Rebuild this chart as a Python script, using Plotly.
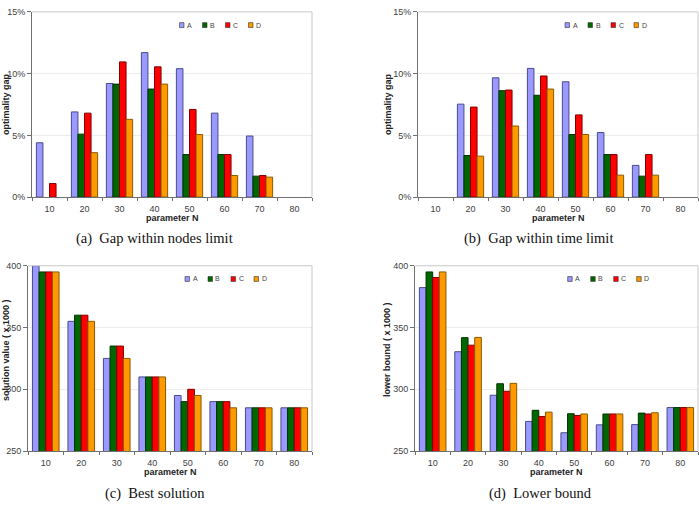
import plotly.graph_objects as go

W, H = 699, 508

categories = ["10", "20", "30", "40", "50", "60", "70", "80"]
series = ["A", "B", "C", "D"]
colors = ["#9999FF", "#006600", "#FF0000", "#FF9900"]
outline = ["#4a4a8a", "#003300", "#800000", "#8a5a00"]

# (a) Gap within nodes limit (%)
gap_nodes_A = [4.4, 6.9, 9.2, 11.7, 10.4, 6.8, 4.95, None]
gap_nodes_B = [None, 5.1, 9.15, 8.75, 3.45, 3.45, 1.7, None]
gap_nodes_C = [1.1, 6.8, 10.95, 10.55, 7.1, 3.45, 1.75, None]
gap_nodes_D = [None, 3.6, 6.3, 9.15, 5.07, 1.75, 1.62, None]

# (b) Gap within time limit (%)
gap_time_A = [None, 7.53, 9.66, 10.42, 9.34, 5.23, 2.57, None]
gap_time_B = [None, 3.37, 8.62, 8.25, 5.07, 3.45, 1.7, None]
gap_time_C = [None, 7.29, 8.67, 9.81, 6.66, 3.45, 3.45, None]
gap_time_D = [None, 3.32, 5.76, 8.75, 5.07, 1.78, 1.78, None]

# (c) Best solution (x 1000)
best_A = [400, 355, 325, 310, 295, 290, 285, 285]
best_B = [395, 360, 335, 310, 290, 290, 285, 285]
best_C = [395, 360, 335, 310, 300, 290, 285, 285]
best_D = [395, 355, 325, 310, 295, 285, 285, 285]

# (d) Lower bound (x 1000)
lb_A = [382.3, 330.4, 295.2, 274.0, 264.8, 271.2, 271.4, 285.2]
lb_B = [395.0, 341.8, 304.5, 283.0, 280.2, 280.0, 280.7, 285.2]
lb_C = [390.5, 335.7, 298.4, 278.0, 278.8, 280.0, 280.0, 285.2]
lb_D = [395.0, 342.0, 304.8, 281.5, 280.0, 280.0, 281.0, 285.2]

panels = [
    dict(data=[gap_nodes_A, gap_nodes_B, gap_nodes_C, gap_nodes_D],
         yrange=[0, 15], dtick=5, suffix="%", ytitle="optimality gap",
         caption="(a)  Gap within nodes limit",
         px=(32, 312), py=(7, 196), ytx=6, yty=101, legx=179.5, legy=20.5,
         capy=238, capx=154, xty=217),
    dict(data=[gap_time_A, gap_time_B, gap_time_C, gap_time_D],
         yrange=[0, 15], dtick=5, suffix="%", ytitle="optimality gap",
         caption="(b)  Gap within time limit",
         px=(418, 698), py=(7, 196), ytx=388, yty=101, legx=565, legy=20.5,
         capy=238, capx=538, xty=217),
    dict(data=[best_A, best_B, best_C, best_D],
         yrange=[250, 400], dtick=50, suffix="", ytitle="solution value ( x 1000 )",
         caption="(c)  Best solution",
         px=(28, 312), py=(266, 455), ytx=6, yty=352, legx=185, legy=279.5,
         capy=498, capx=155, xty=476),
    dict(data=[lb_A, lb_B, lb_C, lb_D],
         yrange=[250, 400], dtick=50, suffix="", ytitle="lower bound ( x 1000 )",
         caption="(d)  Lower bound",
         px=(415, 698), py=(266, 455), ytx=387, yty=352, legx=567.7, legy=279.5,
         capy=498, capx=540, xty=476),
]

fig = go.Figure()
layout = dict(width=W, height=H, margin=dict(l=0, r=0, t=0, b=0),
              paper_bgcolor="white", plot_bgcolor="white",
              barmode="group", bargap=0.25, bargroupgap=0,
              showlegend=False,
              font=dict(family="Liberation Sans, Arial, sans-serif", size=9, color="#333333"))
shapes = []
annotations = []

tickfont = dict(family="Liberation Sans, Arial, sans-serif", size=9, color="#404040")

for i, p in enumerate(panels):
    n = i + 1
    xa = "x" if n == 1 else f"x{n}"
    ya = "y" if n == 1 else f"y{n}"
    xkey = "xaxis" if n == 1 else f"xaxis{n}"
    ykey = "yaxis" if n == 1 else f"yaxis{n}"
    for s, name in enumerate(series):
        fig.add_trace(go.Bar(
            x=categories, y=p["data"][s], name=name,
            marker=dict(color=colors[s], line=dict(color=outline[s], width=1)),
            xaxis=xa, yaxis=ya, showlegend=False))
    x0, x1 = p["px"]
    y0, y1 = p["py"]
    layout[xkey] = dict(domain=[x0 / W, x1 / W], anchor=ya, type="category",
                        categoryorder="array", categoryarray=categories,
                        showline=True, linecolor="#707070", linewidth=1,
                        ticks="outside", ticklen=3, tickcolor="#707070",
                        tickson="boundaries", tickfont=tickfont,
                        ticklabelstandoff=3,
                        showgrid=False, zeroline=False, fixedrange=True)
    layout[ykey] = dict(domain=[1 - y1 / H, 1 - y0 / H], anchor=xa,
                        range=p["yrange"], dtick=p["dtick"], ticksuffix=p["suffix"],
                        showline=True, linecolor="#707070", linewidth=1,
                        ticks="outside", ticklen=4, tickcolor="#707070",
                        tickfont=tickfont, showgrid=True, gridcolor="#ececec",
                        gridwidth=1, zeroline=False, fixedrange=True)
    # light frame on top and right
    shapes.append(dict(type="line", xref=f"{xa} domain", yref=f"{ya} domain",
                       x0=0, x1=1, y0=1, y1=1, line=dict(color="#c8c8c8", width=1)))
    shapes.append(dict(type="line", xref=f"{xa} domain", yref=f"{ya} domain",
                       x0=1, x1=1, y0=0, y1=1, line=dict(color="#c8c8c8", width=1)))
    # axis titles
    annotations.append(dict(text="<b>parameter N</b>", xref="paper", yref="paper",
                            x=(x0 + x1) / 2 / W, y=1 - p["xty"] / H,
                            xanchor="center", yanchor="middle", showarrow=False,
                            font=dict(family="Liberation Sans, Arial, sans-serif",
                                      size=9, color="#222222")))
    annotations.append(dict(text=f"<b>{p['ytitle']}</b>", xref="paper", yref="paper",
                            x=p["ytx"] / W, y=1 - p["yty"] / H, textangle=-90,
                            xanchor="center", yanchor="middle", showarrow=False,
                            font=dict(family="Liberation Sans, Arial, sans-serif",
                                      size=9, color="#222222")))
    # caption
    annotations.append(dict(text=p["caption"], xref="paper", yref="paper",
                            x=p["capx"] / W, y=1 - p["capy"] / H,
                            xanchor="center", yanchor="middle", showarrow=False,
                            font=dict(family="Liberation Serif, DejaVu Serif, serif",
                                      size=14.5, color="#111111")))
    # legend (drawn manually, compact)
    step = 23
    for s, name in enumerate(series):
        lx = p["legx"] + s * step
        ly = p["legy"]
        shapes.append(dict(type="rect", xref="paper", yref="paper",
                           x0=lx / W, x1=(lx + 4.5) / W,
                           y0=1 - (ly + 2.5) / H, y1=1 - (ly - 2.5) / H,
                           fillcolor=colors[s], line=dict(color="#333333", width=0.6)))
        annotations.append(dict(text=name, xref="paper", yref="paper",
                                x=(lx + 5.5) / W, y=1 - ly / H,
                                xanchor="left", yanchor="middle", showarrow=False,
                                font=dict(family="Liberation Sans, Arial, sans-serif",
                                          size=7, color="#444444")))

layout["shapes"] = shapes
layout["annotations"] = annotations
fig.update_layout(**layout)
fig.write_html("out.html")
